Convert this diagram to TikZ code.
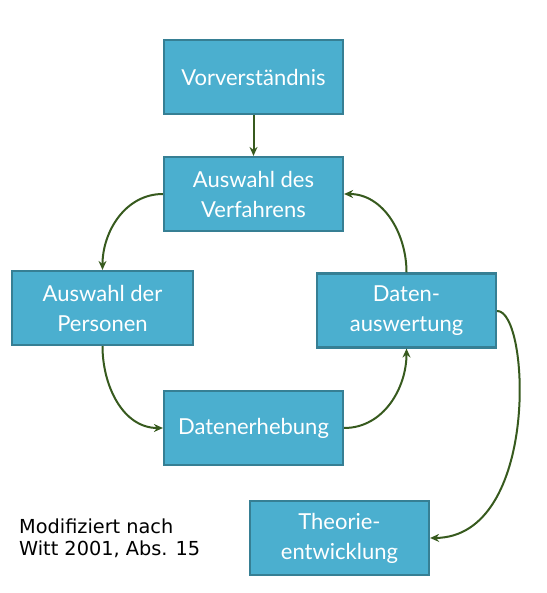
\documentclass[tikz,border=0pt]{standalone}
\usepackage{fontspec}
\setmainfont{Lato}
\newfontfamily\notefont{DejaVu Sans}
\usetikzlibrary{arrows.meta}
\definecolor{boxfill}{HTML}{4BAFCF}
\definecolor{boxline}{HTML}{367F94}
\definecolor{arrowgreen}{HTML}{375A1E}
\tikzset{
  stepbox/.style={rectangle, draw=boxline, line width=2.2pt, fill=boxfill,
    minimum width=179pt, minimum height=74pt, inner sep=0pt,
    text=white, align=center, font=\fontsize{22}{30}\selectfont},
  flow/.style={draw=arrowgreen, line width=2pt,
    -{Stealth[length=9pt,width=8pt]}}
}
\begin{document}
\begin{tikzpicture}[x=1pt,y=-1pt]
\useasboundingbox (0,0) rectangle (546,593);
\node[stepbox] (vor) at (253.5,77) {Vorverständnis};
\node[stepbox] (ver) at (253.5,194) {Auswahl des\\Verfahrens};
\node[stepbox, minimum width=181pt] (per) at (102.5,308) {Auswahl der\\Personen};
\node[stepbox] (aus) at (406.5,310.5) {Daten-\\auswertung};
\node[stepbox] (erh) at (253.5,428) {Datenerhebung};
\node[stepbox] (the) at (339.5,538) {Theorie-\\entwicklung};
\node[anchor=north west, align=left, inner sep=0pt,
  font=\notefont\fontsize{19.3}{22}\selectfont] (note) at (19,519)
  {Modifiziert nach\\Witt 2001, Abs. 15};
\draw[flow] (vor.south) -- (ver.north);
\draw[flow] (ver.west) to[out=180,in=90] (per.north);
\draw[flow] (per.south) to[out=-90,in=180] (erh.west);
\draw[flow] (erh.east) to[out=0,in=-90] (aus.south);
\draw[flow] (aus.north) to[out=90,in=0] (ver.east);
\draw[flow] ([yshift=-0.5pt]aus.east) .. controls (530,310) and (540,537) .. (the.east);
\end{tikzpicture}
\end{document}
